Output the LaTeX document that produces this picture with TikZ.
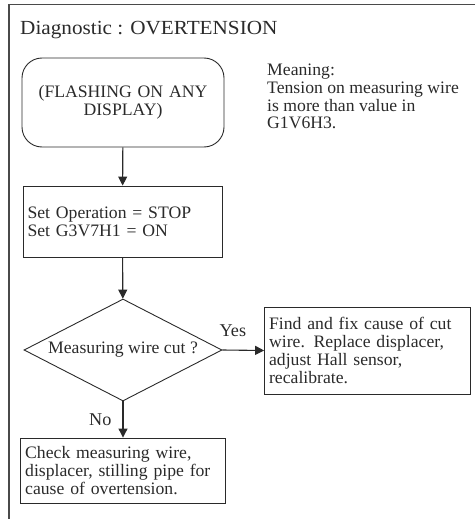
\documentclass[tikz,border=0pt]{standalone}
\usepackage{fontspec}
\usepackage{tikz}
\usetikzlibrary{arrows.meta,positioning,shapes.geometric}
\setmainfont{Liberation Serif}[FakeStretch=1.01]
\newfontfamily\titlefont{Liberation Serif}[FakeStretch=1.06]
\definecolor{dgInk}{HTML}{2A2A2A}
\tikzset{
  dgTitle/.style={inner sep=0pt, font=\titlefont\fontsize{20}{22}\selectfont},
  dgStart/.style={draw=dgInk, line width=0.9pt, rounded corners=20pt,
    minimum height=89pt, text width=190pt, inner xsep=6pt, align=center,
    font=\fontsize{17.5}{17.7}\selectfont},
  dgBox/.style={draw=dgInk, line width=0.9pt, inner xsep=4.5pt, inner ysep=0pt,
    align=left, font=\fontsize{17.5}{17.7}\selectfont},
  dgDecide/.style={draw=dgInk, line width=0.9pt, diamond, aspect=1.94, inner sep=0pt,
    minimum width=198pt, minimum height=102pt, font=\fontsize{17.5}{17.7}\selectfont},
  %% Note text beside the start box
  dgNote/.style={inner sep=0pt, align=left, font=\fontsize{17.5}{17.7}\selectfont},
  %% Flow arrows and their labels
  dgArrow/.style={-{Triangle[length=9pt,width=9pt]}, draw=dgInk, line width=1.1pt},
  dgLabel/.style={inner sep=0pt, font=\fontsize{18}{18}\selectfont},
  dgFrame/.style={draw=dgInk!85, line width=1.4pt},
}

\begin{document}
\begin{tikzpicture}[x=1pt, y=1pt, text=dgInk]
\useasboundingbox (0,0) rectangle (475,-519);
\draw[dgFrame] (475,-4.5) -- (9,-4.5) -- (9,-519);

\node[dgTitle, anchor=base west] (title) at (20,-35) {Diagnostic : OVERTENSION};

\node[dgStart] (start) at (123,-102.5) {(FLASHING ON ANY\\DISPLAY)};
\node[dgNote, anchor=north west] (meaning) at (267,-64)
  {Meaning:\\Tension on measuring wire\\is more than value in\\G1V6H3.};

\node[dgBox, text width=190pt, minimum height=71pt] (setop) at (122.5,-221.5)
  {Set Operation = STOP\\Set G3V7H1 = ON};
\node[dgDecide] (wirecut) at (123,-350) {Measuring wire cut ?};
\node[dgBox, text width=197pt, minimum height=87pt] (fixcut) at (367.6,-350.5)
  {Find and fix cause of cut\\wire. Replace displacer,\\adjust Hall sensor,\\recalibrate.};
\node[dgBox, text width=195.6pt, minimum height=65pt] (check) at (123,-470.5)
  {Check measuring wire,\\displacer, stilling pipe for\\cause of overtension.};

\draw[dgArrow] (start) -- (setop);
\draw[dgArrow] (setop) -- (wirecut);
\draw[dgArrow] (wirecut.east) -- node[dgLabel, above=13pt, pos=0.25]{Yes} (fixcut.west);
\draw[dgArrow] (wirecut.south) -- node[dgLabel, left=11pt, midway]{No} (check.north);

\end{tikzpicture}
\end{document}
